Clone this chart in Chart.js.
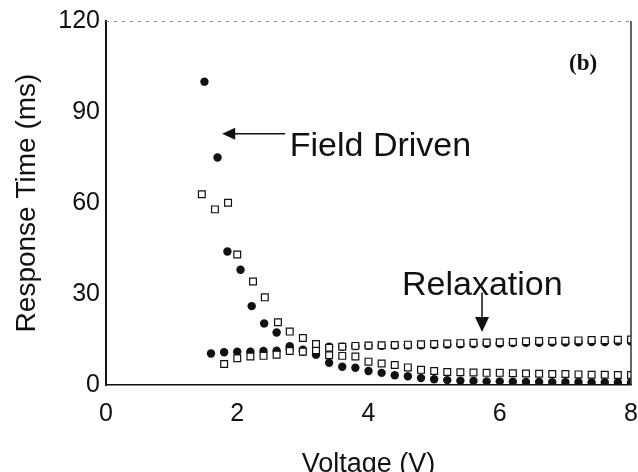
<!DOCTYPE html>
<html>
<head>
<meta charset="utf-8">
<script src="https://cdn.jsdelivr.net/npm/chart.js@4.4.1/dist/chart.umd.min.js"></script>
<style>
  html, body { margin: 0; padding: 0; background: #fff; }
  #chart { display: block; }
</style>
</head>
<body>
<canvas id="chart" width="638" height="472"></canvas>
<script>
// Field-driven response, filled circles
const fieldFilledV = [1.5, 1.7, 1.85, 2.05, 2.22, 2.41, 2.6, 2.8, 3.0, 3.2, 3.4, 3.6, 3.8, 4.0, 4.2, 4.4, 4.6, 4.8, 5.0, 5.2, 5.4, 5.6, 5.8, 6.0, 6.2, 6.4, 6.6, 6.8, 7.0, 7.2, 7.4, 7.6, 7.8, 8.0];
const fieldFilledT = [100, 75, 44, 38, 26, 20.3, 17.3, 12.8, 11, 10, 7.3, 6, 5.7, 4.6, 4.0, 3.2, 2.9, 2.3, 1.9, 1.6, 1.4, 1.3, 1.2, 1.2, 1.1, 1.0, 1.0, 0.9, 0.9, 0.9, 0.8, 0.8, 0.8, 0.8];

// Field-driven response, open squares
const fieldOpenV = [1.46, 1.66, 1.86, 2.0, 2.24, 2.42, 2.62, 2.8, 3.0, 3.2, 3.4, 3.6, 3.8, 4.0, 4.2, 4.4, 4.6, 4.8, 5.0, 5.2, 5.4, 5.6, 5.8, 6.0, 6.2, 6.4, 6.6, 6.8, 7.0, 7.2, 7.4, 7.6, 7.8, 8.0];
const fieldOpenT = [62.9, 57.9, 60.1, 43, 34.1, 28.9, 20.7, 17.6, 15.5, 13.5, 9.8, 9.6, 9.4, 7.7, 7.1, 6.6, 5.8, 5.0, 4.6, 4.3, 4.2, 4.1, 4.0, 4.0, 3.9, 3.8, 3.7, 3.6, 3.6, 3.5, 3.4, 3.4, 3.3, 3.3];

// Relaxation, filled circles
const relaxFilledV = [1.6, 1.8, 2.0, 2.2, 2.4, 2.6, 2.8, 3.0, 3.2, 3.4, 3.6, 3.8, 4.0, 4.2, 4.4, 4.6, 4.8, 5.0, 5.2, 5.4, 5.6, 5.8, 6.0, 6.2, 6.4, 6.6, 6.8, 7.0, 7.2, 7.4, 7.6, 7.8, 8.0];
const relaxFilledT = [10.4, 10.8, 11.0, 11.0, 11.2, 11.3, 11.8, 11.6, 12.2, 12.6, 12.6, 12.8, 12.9, 12.9, 13.0, 13.0, 13.1, 13.2, 13.3, 13.4, 13.5, 13.6, 13.7, 13.8, 13.9, 13.9, 14.0, 14.0, 14.1, 14.2, 14.2, 14.3, 14.3];

// Relaxation, open squares
const relaxOpenV = [1.8, 2.0, 2.2, 2.4, 2.6, 2.8, 3.0, 3.2, 3.4, 3.6, 3.8, 4.0, 4.2, 4.4, 4.6, 4.8, 5.0, 5.2, 5.4, 5.6, 5.8, 6.0, 6.2, 6.4, 6.6, 6.8, 7.0, 7.2, 7.4, 7.6, 7.8, 8.0];
const relaxOpenT = [6.9, 8.8, 9.4, 9.6, 10.0, 11.2, 11.0, 11.5, 12.3, 12.6, 12.9, 13.0, 13.1, 13.2, 13.3, 13.4, 13.5, 13.7, 13.8, 13.9, 14.0, 14.1, 14.2, 14.4, 14.5, 14.5, 14.6, 14.7, 14.8, 14.8, 14.9, 15.0];

const xTicks = [0, 2, 4, 6, 8];
const yTicks = [0, 30, 60, 90, 120];

const pts = (xs, ys) => xs.map((x, i) => ({ x: x, y: ys[i] }));

const ink = '#111';
const sans = "'Liberation Sans', Arial, sans-serif";

// frame, arrows and labels inside the plot
const annotations = {
    id: 'annotations',
    afterDraw(chart) {
        const ctx = chart.ctx;
        const a = chart.chartArea;
        const xs = chart.scales.x, ys = chart.scales.y;
        const px = v => xs.getPixelForValue(v);
        const py = v => ys.getPixelForValue(v);
        ctx.save();

        // top edge, faint and broken
        ctx.strokeStyle = '#888';
        ctx.lineWidth = 1;
        ctx.setLineDash([3, 5]);
        ctx.beginPath();
        ctx.moveTo(a.left, a.top + 0.5);
        ctx.lineTo(a.right, a.top + 0.5);
        ctx.stroke();
        // right edge
        ctx.setLineDash([]);
        ctx.strokeStyle = '#333';
        ctx.lineWidth = 1.5;
        ctx.beginPath();
        ctx.moveTo(a.right, a.top);
        ctx.lineTo(a.right, a.bottom);
        ctx.stroke();

        ctx.fillStyle = ink;
        ctx.strokeStyle = ink;

        // Field Driven arrow
        let tipX = px(1.77), tipY = py(82.8);
        ctx.lineWidth = 1.5;
        ctx.beginPath();
        ctx.moveTo(px(2.73), tipY);
        ctx.lineTo(tipX + 6, tipY);
        ctx.stroke();
        ctx.beginPath();
        ctx.moveTo(tipX, tipY);
        ctx.lineTo(tipX + 13, tipY - 6);
        ctx.lineTo(tipX + 13, tipY + 6);
        ctx.closePath();
        ctx.fill();

        ctx.font = '34px ' + sans;
        ctx.textBaseline = 'alphabetic';
        ctx.textAlign = 'left';
        ctx.fillText('Field Driven', px(2.8), py(75.5));

        // Relaxation arrow
        ctx.fillText('Relaxation', px(4.51), py(29.7));
        tipX = px(5.73); tipY = py(17.5);
        ctx.beginPath();
        ctx.moveTo(tipX, py(30.5));
        ctx.lineTo(tipX, tipY - 8);
        ctx.stroke();
        ctx.beginPath();
        ctx.moveTo(tipX, tipY);
        ctx.lineTo(tipX - 7, tipY - 15);
        ctx.lineTo(tipX + 7, tipY - 15);
        ctx.closePath();
        ctx.fill();

        // panel label
        ctx.font = "bold 23px 'Liberation Serif', 'Times New Roman', serif";
        ctx.textAlign = 'center';
        ctx.textBaseline = 'middle';
        ctx.fillText('(b)', px(7.27), py(105.8));

        ctx.restore();
    }
};

new Chart(document.getElementById('chart'), {
    type: 'scatter',
    data: {
        datasets: [
            {
                label: 'Field driven (open)',
                data: pts(fieldOpenV, fieldOpenT),
                pointStyle: 'rect',
                pointRadius: 4.8,
                backgroundColor: '#fff',
                borderColor: ink,
                borderWidth: 1.2
            },
            {
                label: 'Relaxation (open)',
                data: pts(relaxOpenV, relaxOpenT),
                pointStyle: 'rect',
                pointRadius: 4.8,
                backgroundColor: '#fff',
                borderColor: ink,
                borderWidth: 1.2
            },
            {
                label: 'Field driven (filled)',
                data: pts(fieldFilledV, fieldFilledT),
                pointStyle: 'circle',
                pointRadius: 4.2,
                backgroundColor: ink,
                borderWidth: 0
            },
            {
                label: 'Relaxation (filled)',
                data: pts(relaxFilledV, relaxFilledT),
                pointStyle: 'circle',
                pointRadius: 4.2,
                backgroundColor: ink,
                borderWidth: 0
            }
        ]
    },
    options: {
        responsive: false,
        animation: false,
        devicePixelRatio: 1,
        layout: { padding: { top: 21, right: 7, left: 0, bottom: 0 } },
        plugins: {
            legend: { display: false },
            tooltip: { enabled: false }
        },
        scales: {
            x: {
                type: 'linear',
                min: 0,
                max: 8,
                afterBuildTicks: s => { s.ticks = xTicks.map(v => ({ value: v })); },
                afterFit: s => {
                    s.height = 87;
                    s.paddingLeft = 0;
                    s.paddingRight = 0;
                },
                grid: { display: false, drawTicks: false },
                border: { display: true, color: ink, width: 1.5 },
                ticks: { color: ink, padding: 14, font: { family: sans, size: 25 } },
                title: {
                    display: true,
                    text: 'Voltage (V)',
                    color: ink,
                    font: { family: sans, size: 27, lineHeight: 1 },
                    padding: { top: 0, bottom: -6 }
                }
            },
            y: {
                type: 'linear',
                min: 0,
                max: 120,
                afterBuildTicks: s => { s.ticks = yTicks.map(v => ({ value: v })); },
                afterFit: s => {
                    s.width = 106;
                    s.paddingTop = 0;
                    s.paddingBottom = 0;
                },
                grid: { display: false, drawTicks: false },
                border: { display: true, color: ink, width: 2 },
                ticks: { color: ink, padding: 6, font: { family: sans, size: 25 } },
                title: {
                    display: true,
                    text: 'Response Time (ms)',
                    color: ink,
                    font: { family: sans, size: 28, lineHeight: 1 },
                    padding: { top: 13, bottom: 0 }
                }
            }
        }
    },
    plugins: [annotations]
});
</script>
</body>
</html>
